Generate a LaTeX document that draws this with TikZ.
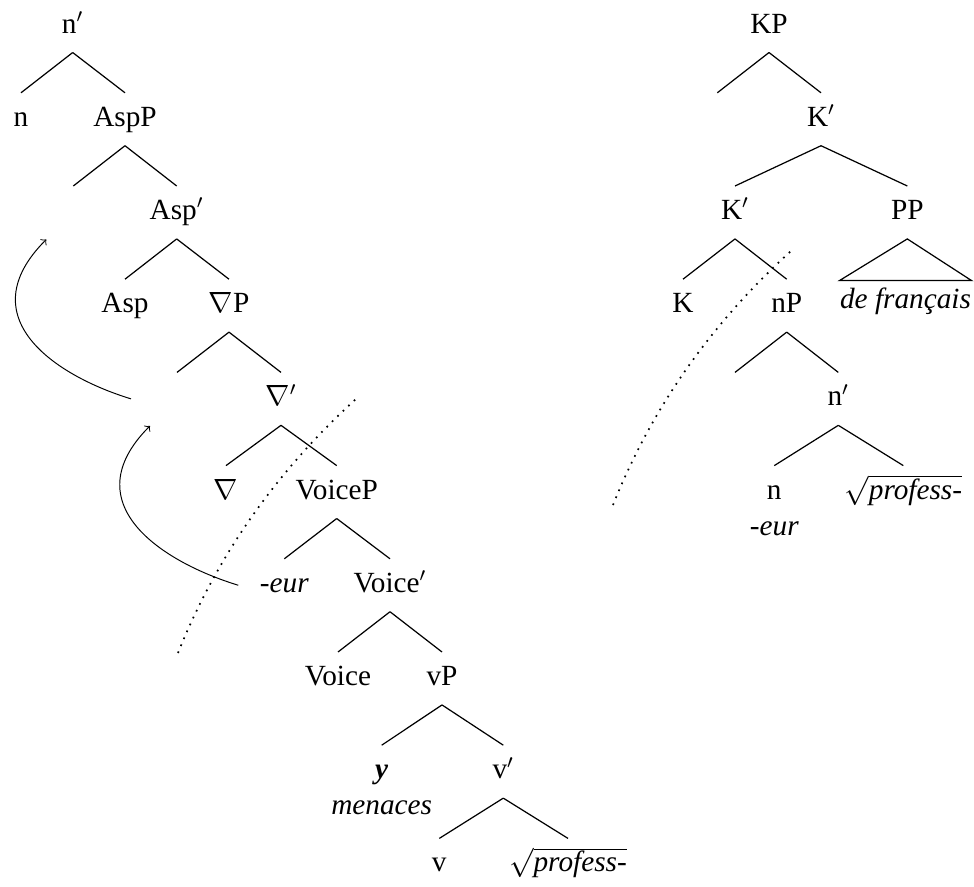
\documentclass[tikz,border=0pt]{standalone}
\usepackage{fontspec}
\setmainfont{Liberation Serif}

\begin{document}
\begin{tikzpicture}[x=.41pt,y=.41pt,
	lbl/.style={anchor=base,inner sep=0pt,text height=13.5pt,text depth=7.8pt,
	            font=\fontsize{12}{14.5}\selectfont},
	br/.style={line width=.5pt},
	mv/.style={->,line width=.4pt},
	cut/.style={line width=.7pt,dash pattern=on .7pt off 2.4pt}]

	\useasboundingbox (0,0) rectangle (974,-886);

	%left tree
	\node[lbl] (nbar) at (72.7,-33) {n$'$};
	\node[lbl] (nhead) at (21,-126.2) {n};
	\node[lbl] (aspP) at (125,-126.2) {AspP};
	\node[lbl] (specA) at (73.3,-219.4) {};
	\node[lbl] (aspbar) at (176.7,-219.4) {Asp$'$};
	\node[lbl] (asp) at (125,-312.6) {Asp};
	\node[lbl] (nabP) at (229,-312.6) {$\nabla$P};
	\node[lbl] (specN) at (177,-405.8) {};
	\node[lbl] (nabbar) at (281,-405.8) {$\nabla'$};
	\node[lbl] (nab) at (226,-499) {$\nabla$};
	\node[lbl] (voiceP) at (336.7,-499) {VoiceP};
	\node[lbl] (eur) at (284.3,-592.2) {\textit{-eur}};
	\node[lbl] (voicebar) at (390,-592.2) {Voice$'$};
	\node[lbl] (voice) at (338,-685.4) {Voice};
	\node[lbl] (vP) at (442,-685.4) {vP};
	\node[lbl] (yy) at (381.7,-778.6) {\textbf{\textit{y}}};
	\node[lbl] (yygl) at ([yshift=-14.8pt]yy.base) {\textit{menaces}};
	\node[lbl] (vbar) at (503.3,-778.6) {v$'$};
	\node[lbl] (vhead) at (439.3,-871.8) {v};
	\node[lbl] (root) at (568,-871.8) {$\sqrt{\textit{profess-}}$};

	\draw[br] (nbar.south) -- (nhead.north);
	\draw[br] (nbar.south) -- (aspP.north);
	\draw[br] (aspP.south) -- (specA.north);
	\draw[br] (aspP.south) -- (aspbar.north);
	\draw[br] (aspbar.south) -- (asp.north);
	\draw[br] (aspbar.south) -- (nabP.north);
	\draw[br] (nabP.south) -- (specN.north);
	\draw[br] (nabP.south) -- (nabbar.north);
	\draw[br] (nabbar.south) -- (nab.north);
	\draw[br] (nabbar.south) -- (voiceP.north);
	\draw[br] (voiceP.south) -- (eur.north);
	\draw[br] (voiceP.south) -- (voicebar.north);
	\draw[br] (voicebar.south) -- (voice.north);
	\draw[br] (voicebar.south) -- (vP.north);
	\draw[br] (vP.south) -- (yy.north);
	\draw[br] (vP.south) -- (vbar.north);
	\draw[br] (vbar.south) -- (vhead.north);
	\draw[br] (vbar.south) -- (root.north);

	%movement
	\draw[mv] ([shift={(-46,0)}]eur.center) .. controls +(163:80) and +(225:110) .. ([shift={(-27,-27)}]specN.center);
	\draw[mv] ([shift={(-46,0)}]specN.center) .. controls +(163:80) and +(225:110) .. ([shift={(-27,-27)}]specA.center);

	%right tree
	\node[lbl] (KP) at (769,-33) {KP};
	\node[lbl] (specK) at (717.3,-126.2) {};
	\node[lbl] (kbar) at (821,-126.2) {K$'$};
	\node[lbl] (kbarb) at (735,-219.4) {K$'$};
	\node[lbl] (PP) at (907.3,-219.4) {PP};
	\node[lbl,text height=11.2pt] (df) at (905.5,-308.3) {\textit{de français}};
	\node[lbl] (khead) at (683,-312.6) {K};
	\node[lbl] (nP) at (786.7,-312.6) {nP};
	\node[lbl] (specn) at (735,-405.8) {};
	\node[lbl] (nbarb) at (838.3,-405.8) {n$'$};
	\node[lbl] (nheadb) at (774.3,-499) {n};
	\node[lbl] (nheadgl) at ([yshift=-14.8pt]nheadb.base) {\textit{-eur}};
	\node[lbl] (rootb) at (903.3,-499) {$\sqrt{\textit{profess-}}$};

	\draw[br] (KP.south) -- (specK.north);
	\draw[br] (KP.south) -- (kbar.north);
	\draw[br] (kbar.south) -- (kbarb.north);
	\draw[br] (kbar.south) -- (PP.north);
	\draw[br] (PP.south) -- (df.north west) -- (df.north east) -- cycle;
	\draw[br] (kbarb.south) -- (khead.north);
	\draw[br] (kbarb.south) -- (nP.north);
	\draw[br] (nP.south) -- (specn.north);
	\draw[br] (nP.south) -- (nbarb.north);
	\draw[br] (nbarb.south) -- (nheadb.north);
	\draw[br] (nbarb.south) -- (rootb.north);

	%phase boundaries
	\coordinate (cutA1) at (178,-653);
	\coordinate (cutA2) at (357,-398);
	\coordinate (cutB1) at (613,-505);
	\coordinate (cutB2) at (791,-251);
	\draw[cut] (cutA1) .. controls +(38.7,96.7) and +(-80.7,-73.3) .. (cutA2);
	\draw[cut] (cutB1) .. controls +(38.7,96.7) and +(-80.7,-73.3) .. (cutB2);

\end{tikzpicture}
\end{document}
